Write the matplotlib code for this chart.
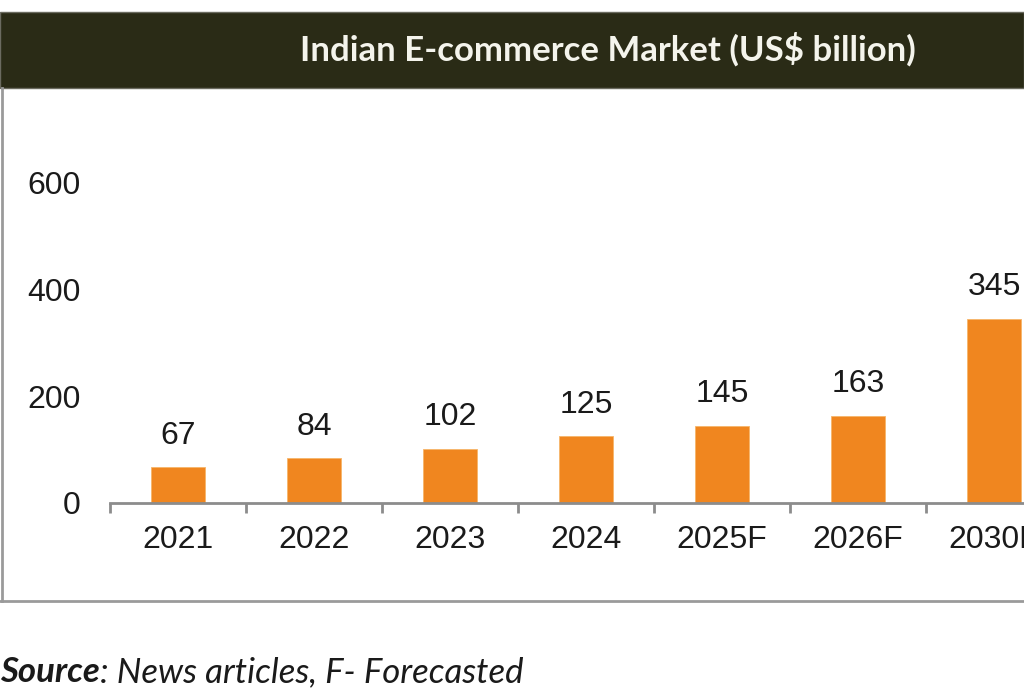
import matplotlib
matplotlib.use('Agg')
import matplotlib.pyplot as plt
from matplotlib.patches import Rectangle
from matplotlib.lines import Line2D
import numpy as np

# data
years = ['2021', '2022', '2023', '2024', '2025F', '2026F', '2030F']
market = [67, 84, 102, 125, 145, 163, 345]
y_ticks = [0, 200, 400, 600]

W, H = 1024, 700
fig = plt.figure(figsize=(W / 100, H / 100), dpi=100)
fig.patch.set_facecolor('white')

# header band
fig.patches.append(Rectangle((0, (H - 88) / H), 1, 76 / H, transform=fig.transFigure,
                             facecolor='#2a2b16', edgecolor='#6b6b60', lw=1, zorder=0))
fig.text(608 / W, (H - 49) / H, 'Indian E-commerce Market (US$ billion)', color='#f4f4ec',
         fontsize=25, fontweight='bold', family='Lato', ha='center', va='center')

# chart frame (left and bottom visible)
fig.add_artist(Line2D([1.5 / W, 1.5 / W], [(H - 88) / H, (H - 601) / H], color='#9a9a9a', lw=2))
fig.add_artist(Line2D([0, 1], [(H - 601) / H, (H - 601) / H], color='#9a9a9a', lw=2))

ax = fig.add_axes([110 / W, (H - 503) / H, (W - 110) / W, 320 / H])
x = np.arange(len(years))
bars = ax.bar(x, market, width=0.395, color='#f0861f', edgecolor='#f6b56a', lw=0.6)
ax.bar_label(bars, labels=[str(v) for v in market], padding=12, fontsize=23,
             family='Liberation Sans', color='#1a1a1a', clip_on=False)

ax.set_yticks(y_ticks)
ax.set_yticklabels([str(v) for v in y_ticks], family='Liberation Sans', fontsize=23, color='#1a1a1a')
ax.set_xticks(x)
ax.set_xticklabels(years, family='Liberation Sans', fontsize=23, color='#1a1a1a')
ax.set_xticks(np.arange(-0.5, len(years), 1), minor=True)
ax.set_xlim(-0.5, -0.5 + (W - 110) / 136)
ax.set_ylim(0, 600)
ax.tick_params(axis='y', length=0, pad=21)
ax.tick_params(axis='x', which='major', length=0, pad=16)
ax.tick_params(axis='x', which='minor', length=7, width=2, color='#8c8c8c', direction='out')
for s in ['top', 'right', 'left']:
    ax.spines[s].set_visible(False)
ax.spines['bottom'].set_color('#8c8c8c')
ax.spines['bottom'].set_linewidth(2)
ax.patch.set_alpha(0)

# source note
t1 = fig.text(0, (H - 672) / H, 'Source', fontsize=25, family='Lato', fontstyle='italic',
              fontweight='bold', color='#1a1a1a', ha='left', va='center')
ax.annotate(': News articles, F- Forecasted', xy=(1, 0), xycoords=t1, va='bottom', ha='left',
            fontsize=25, family='Lato', fontstyle='italic', color='#1a1a1a',
            annotation_clip=False)

fig.savefig('out.png', dpi=100, facecolor='white')
